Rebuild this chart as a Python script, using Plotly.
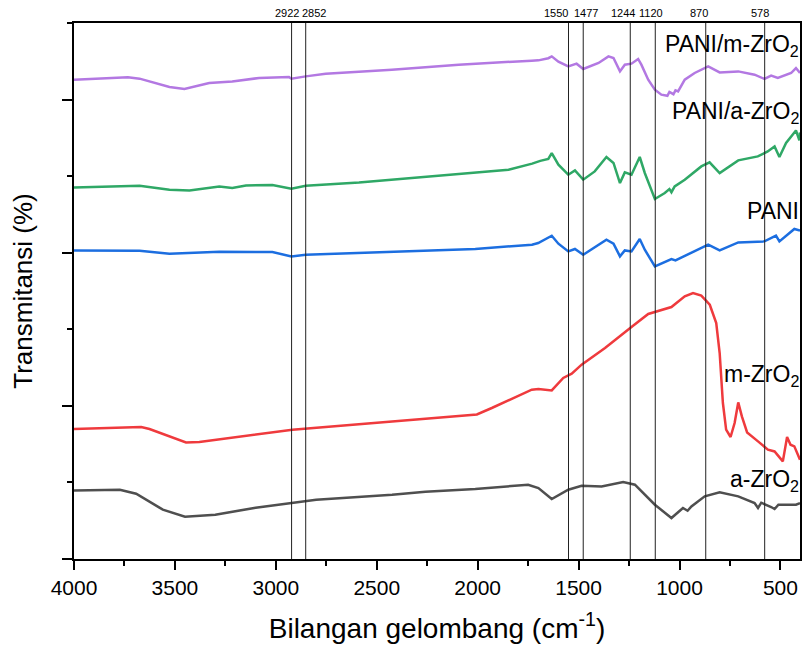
import plotly.graph_objects as go

# FTIR spectra, stacked with vertical offsets (transmittance, arbitrary offset units)
wn_pani_m = [4000, 3733, 3675, 3527, 3453, 3330, 3216, 3083, 2935, 2923, 2852, 2753, 2425, 2094,
             1733, 1699, 1650, 1633, 1600, 1551, 1510, 1477, 1401, 1352, 1327, 1295, 1271, 1238,
             1205, 1189, 1155, 1122, 1090, 1060, 1050, 1040, 1030, 1020, 1007, 974, 925, 858, 801,
             709, 628, 579, 546, 513, 447, 423, 403]
t_pani_m = [62.60, 62.90, 62.73, 61.64, 61.38, 62.17, 62.37, 62.82, 62.95, 62.73, 63.03, 63.38, 63.90, 64.56,
            65.08, 65.12, 65.40, 65.64, 64.95, 64.33, 64.69, 63.99, 64.78, 65.64, 65.43, 63.68, 64.56, 64.69,
            65.30, 64.56, 62.60, 61.29, 60.64, 60.50, 61.00, 60.86, 60.70, 61.20, 61.07, 62.60, 63.47, 64.33, 63.55,
            63.68, 63.25, 62.69, 63.12, 62.82, 63.47, 64.12, 63.47]

wn_pani_a = [4000, 3857, 3675, 3527, 3428, 3280, 3216, 3148, 3017, 2923, 2852, 2588, 2259, 2012,
             1847, 1730, 1690, 1650, 1633, 1600, 1551, 1518, 1477, 1420, 1362, 1327, 1295, 1271,
             1238, 1197, 1172, 1122, 1073, 1050, 1040, 1024, 974, 892, 851, 801, 709, 612,
             563, 529, 505, 472, 423, 406, 403]
t_pani_a = [48.53, 48.66, 48.75, 48.23, 48.14, 48.66, 48.45, 48.79, 48.84, 48.36, 48.75, 49.18, 49.89, 50.41,
            50.84, 51.63, 52.00, 52.24, 53.02, 51.49, 50.19, 50.75, 49.54, 50.62, 52.50, 51.72, 49.10, 50.49,
            50.19, 52.50, 50.41, 47.02, 47.80, 48.30, 47.90, 48.66, 49.54, 51.27, 51.80, 50.41, 52.06, 52.58,
            53.23, 53.88, 52.50, 54.33, 55.97, 54.67, 55.71]

wn_pani = [4000, 3675, 3527, 3280, 3017, 2923, 2852, 2424, 2012, 1731, 1700, 1633, 1600, 1551,
           1518, 1477, 1362, 1327, 1295, 1271, 1238, 1197, 1172, 1122, 1060, 1040, 1020, 974, 858,
           801, 709, 579, 522, 505, 431, 403]
t_pani = [40.30, 40.26, 39.87, 40.13, 40.09, 39.52, 39.74, 40.17, 40.49, 41.05, 41.27, 42.22, 41.18, 40.17,
          40.49, 39.74, 41.70, 41.18, 39.52, 40.30, 40.17, 41.79, 40.39, 38.21, 38.90, 39.18, 39.00, 39.61, 41.05,
          40.30, 41.35, 41.48, 42.22, 41.48, 43.10, 42.91]

wn_m = [4000, 3667, 3626, 3445, 3379, 2918, 2424, 2004, 1930, 1732, 1699, 1633, 1576, 1534,
        1485, 1369, 1238, 1155, 1040, 974, 933, 892, 850, 818, 801, 785, 769, 747, 727, 709,
        691, 665, 611, 562, 529, 488, 467, 450, 431, 403]
t_m = [16.98, 17.24, 16.98, 15.23, 15.28, 16.89, 17.97, 18.88, 19.72, 22.11, 22.20, 22.02, 23.64, 24.20,
       25.38, 27.56, 30.30, 32.00, 32.91, 34.30, 34.74, 34.39, 33.21, 30.82, 26.90, 20.37, 16.89, 15.93, 17.76, 20.45,
       18.62, 16.53, 15.36, 14.27, 14.05, 12.75, 15.93, 14.93, 14.71, 12.97]

wn_a = [4000, 3773, 3692, 3640, 3560, 3450, 3300, 3100, 2900, 2800, 2424, 2259, 2012, 1800,
        1750, 1699, 1633, 1551, 1485, 1386, 1279, 1221, 1122, 1040, 983, 960, 941, 875, 801,
        709, 628, 611, 595, 546, 529, 510, 423, 403]
t_a = [8.96, 9.05, 8.53, 7.74, 6.44, 5.52, 5.79, 6.70, 7.35, 7.74, 8.40, 8.79, 9.14, 9.57,
       9.70, 9.27, 7.84, 9.05, 9.57, 9.48, 10.06, 9.70, 7.09, 5.35, 6.66, 6.30, 6.87, 8.18, 8.70,
       8.18, 7.31, 6.66, 7.35, 6.79, 6.53, 7.09, 7.09, 7.31]

series_names = ["PANI/m-ZrO<sub>2</sub>", "PANI/a-ZrO<sub>2</sub>", "PANI", "m-ZrO<sub>2</sub>", "a-ZrO<sub>2</sub>"]
series_x = [wn_pani_m, wn_pani_a, wn_pani, wn_m, wn_a]
series_y = [t_pani_m, t_pani_a, t_pani, t_m, t_a]
series_colors = ["#B378E2", "#2FA866", "#1C6EE0", "#EF3A3D", "#4F4F4F"]
label_y = [67.1, 58.3, 45.4, 24.0, 10.2]

# marked absorption bands
peaks = [2922, 2852, 1550, 1477, 1244, 1120, 870, 578]
peak_shift = [-5, 8, -13, 3, -7, -4, -7, -5]

FONT = "Liberation Sans, Arial, sans-serif"

fig = go.Figure()
for name, xs, ys, c in zip(series_names, series_x, series_y, series_colors):
    fig.add_trace(go.Scatter(x=xs, y=ys, mode="lines", name=name,
                             line=dict(color=c, width=2.5), showlegend=False))

for p, dx in zip(peaks, peak_shift):
    fig.add_shape(type="line", x0=p, x1=p, xref="x", y0=0, y1=1, yref="paper",
                  line=dict(color="#222222", width=1))
    fig.add_annotation(x=p, y=1, xref="x", yref="paper", text=str(p), showarrow=False,
                       yanchor="bottom", yshift=2, xshift=dx,
                       font=dict(family=FONT, size=11, color="black"))

for name, ly in zip(series_names, label_y):
    fig.add_annotation(x=1, xref="paper", y=ly, yref="y", text=name, showarrow=False,
                       xanchor="right", yanchor="middle", xshift=1,
                       font=dict(family=FONT, size=23, color="black"))

fig.update_layout(
    width=804, height=648,
    margin=dict(l=74, r=2, t=23, b=89),
    paper_bgcolor="white", plot_bgcolor="white",
    font=dict(family=FONT, color="black"),
)
fig.update_xaxes(
    range=[4000, 403], tickmode="linear", tick0=500, dtick=500,
    ticks="outside", ticklen=9, tickwidth=1.5, tickcolor="black",
    minor=dict(dtick=250, tick0=250, ticks="outside", ticklen=5, tickwidth=1.5, tickcolor="black"),
    showline=True, linecolor="black", linewidth=1.5, mirror=True,
    showgrid=False, zeroline=False,
    tickfont=dict(family=FONT, size=21, color="black"),
    title=dict(text="Bilangan gelombang (cm<sup>-1</sup>)", standoff=20,
               font=dict(family=FONT, size=28, color="black")),
)
fig.update_yaxes(
    range=[0, 70], tickmode="linear", tick0=0, dtick=20, showticklabels=False,
    ticks="outside", ticklen=10, tickwidth=1.5, tickcolor="black",
    minor=dict(dtick=10, tick0=0, ticks="outside", ticklen=5, tickwidth=1.5, tickcolor="black"),
    showline=True, linecolor="black", linewidth=1.5, mirror=True,
    showgrid=False, zeroline=False,
    title=dict(text="Transmitansi (%)", standoff=22,
               font=dict(family=FONT, size=26, color="black")),
)

fig.write_html("out.html")
